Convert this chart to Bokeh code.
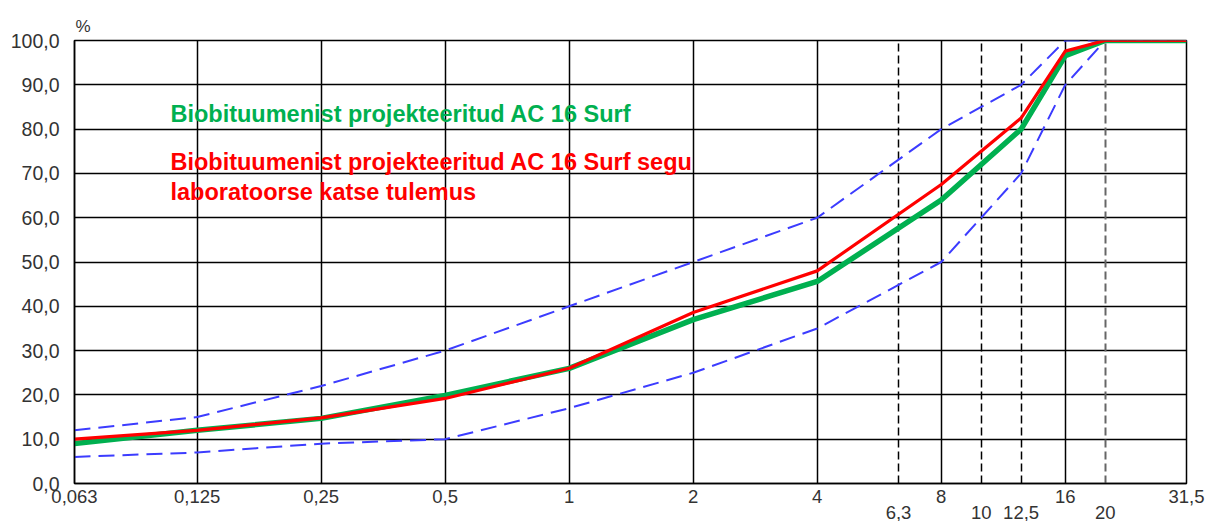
from bokeh.plotting import figure
from bokeh.models import FixedTicker, LogAxis, Grid, Label
from bokeh.embed import file_html
from bokeh.resources import INLINE

# ---- data ----
sieves = [0.063, 0.125, 0.25, 0.5, 1, 2, 4, 8, 12.5, 16, 20, 31.5]
design_green = [9.0, 12.0, 14.7, 19.9, 26.0, 37.0, 45.6, 64.0, 80.0, 96.6, 100.0, 100.0]
lab_red = [10.0, 12.0, 14.8, 19.2, 26.0, 38.6, 48.0, 67.5, 82.5, 97.6, 100.0, 100.0]
upper_limit = [12, 15, 22, 30, 40, 50, 60, 80, 90, 100, 100, 100]
lower_limit = [6, 7, 9, 10, 17, 25, 35, 50, 70, 90, 100, 100]

x_main_ticks = [0.063, 0.125, 0.25, 0.5, 1, 2, 4, 8, 16, 31.5]
x_main_labels = ["0,063", "0,125", "0,25", "0,5", "1", "2", "4", "8", "16", "31,5"]
x_minor_ticks = [6.3, 10, 12.5]
x_minor_labels = ["6,3", "10", "12,5"]
x_extra_ticks = [20]
x_extra_labels = ["20"]
y_ticks = [0, 10, 20, 30, 40, 50, 60, 70, 80, 90, 100]
y_labels = ["0,0", "10,0", "20,0", "30,0", "40,0", "50,0", "60,0", "70,0", "80,0", "90,0", "100,0"]

legend_green = "Biobituumenist projekteeritud  AC 16 Surf"
legend_red_1 = "Biobituumenist projekteeritud  AC 16 Surf segu"
legend_red_2 = "laboratoorse katse tulemus"

FONT = "Liberation Sans"

p = figure(x_axis_type="log", x_range=(0.063, 31.5), y_range=(0, 100),
           frame_width=1112, frame_height=443,
           min_border_left=74, min_border_right=19, min_border_top=40, min_border_bottom=20,
           output_backend="svg", toolbar_location=None, title="%")

p.title.text_font = FONT
p.title.text_font_size = "17px"
p.title.text_font_style = "normal"
p.title.text_color = "#333333"
p.title.align = "left"
p.title.offset = 1
p.title.standoff = 10

p.outline_line_color = "#000000"
p.outline_line_width = 1.5
p.background_fill_color = "white"
p.border_fill_color = "white"

# x axis (main)
xa = p.xaxis[0]
xa.ticker = FixedTicker(ticks=x_main_ticks)
xa.major_label_overrides = {t: l for t, l in zip(x_main_ticks, x_main_labels)}
xa.minor_tick_line_color = None
xa.major_tick_in = 0
xa.major_tick_out = 0
xa.axis_line_color = "#000000"
xa.axis_line_width = 1.5
xa.major_label_text_font = FONT
xa.major_label_text_font_size = "18.5px"
xa.major_label_text_color = "#333333"
xa.major_label_standoff = 6

# second x-axis row for dashed sieves
xb = LogAxis(ticker=FixedTicker(ticks=x_minor_ticks + x_extra_ticks))
xb.major_label_overrides = {t: l for t, l in zip(x_minor_ticks + x_extra_ticks, x_minor_labels + x_extra_labels)}
xb.axis_line_color = None
xb.major_tick_line_color = None
xb.minor_tick_line_color = None
xb.major_tick_in = 0
xb.major_tick_out = 0
xb.major_label_text_font = FONT
xb.major_label_text_font_size = "18.5px"
xb.major_label_text_color = "#333333"
xb.major_label_standoff = 0
p.add_layout(xb, "below")

# y axis
ya = p.yaxis[0]
ya.ticker = FixedTicker(ticks=y_ticks)
ya.major_label_overrides = {t: l for t, l in zip(y_ticks, y_labels)}
ya.minor_tick_line_color = None
ya.major_tick_in = 0
ya.major_tick_out = 0
ya.axis_line_color = "#000000"
ya.axis_line_width = 1.5
ya.major_label_text_font = FONT
ya.major_label_text_font_size = "19.5px"
ya.major_label_text_color = "#333333"
ya.major_label_standoff = 15

# grids
p.xgrid.ticker = FixedTicker(ticks=x_main_ticks)
p.xgrid.grid_line_color = "#000000"
p.xgrid.grid_line_width = 1.5
p.ygrid.ticker = FixedTicker(ticks=y_ticks)
p.ygrid.grid_line_color = "#000000"
p.ygrid.grid_line_width = 1.5

g_dash = Grid(dimension=0, ticker=FixedTicker(ticks=x_minor_ticks),
              grid_line_color="#000000", grid_line_width=1.5, grid_line_dash="8 4")
p.add_layout(g_dash)
g_dash2 = Grid(dimension=0, ticker=FixedTicker(ticks=x_extra_ticks),
               grid_line_color="#666666", grid_line_width=2, grid_line_dash="8 4")
p.add_layout(g_dash2)

# curves
p.line(sieves, upper_limit, line_color="#3c3cff", line_width=2, line_dash="16 8")
p.line(sieves, lower_limit, line_color="#3c3cff", line_width=2, line_dash="16 8")
p.line(sieves, design_green, line_color="#00b050", line_width=5.5)
p.line(sieves, lab_red, line_color="#ff0000", line_width=3.2)

# legend texts
for txt, yv, col in [(legend_green, 83.5, "#00b050"),
                     (legend_red_1, 72.5, "#ff0000"),
                     (legend_red_2, 65.7, "#ff0000")]:
    p.add_layout(Label(x=0.1077, y=yv, text=txt, text_font=FONT, text_font_style="bold",
                       text_font_size="23.5px", text_color=col, text_baseline="alphabetic",
                       text_align="left"))

open("out.html", "w").write(file_html(p, INLINE))
